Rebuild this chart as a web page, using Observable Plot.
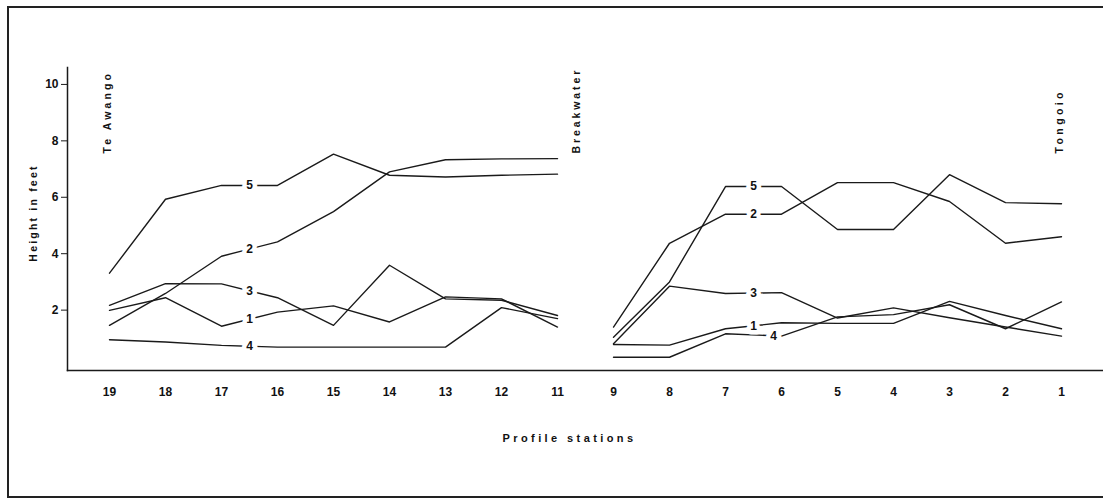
<!DOCTYPE html>
<html>
<head>
<meta charset="utf-8">
<script src="https://cdn.jsdelivr.net/npm/d3@7"></script>
<script src="https://cdn.jsdelivr.net/npm/@observablehq/plot@0.6"></script>
<style>
  html, body { margin: 0; padding: 0; background: #fff; }
  #wrap { position: relative; width: 1103px; height: 499px; overflow: hidden; }
  #border { position: absolute; left: 7px; top: 6px; width: 1120px; height: 488px; border: 2px solid #222; pointer-events: none; }
  #chart { position: absolute; left: 0; top: 0; }
  svg text { font-family: "Liberation Sans", Arial, sans-serif; font-weight: bold; fill: #111; }
</style>
</head>
<body>
<div id="wrap"><div id="chart"></div><div id="border"></div></div>
<script>
// Profile stations (station 10 is absent: breakwater gap)
const stations = ["19","18","17","16","15","14","13","12","11","9","8","7","6","5","4","3","2","1"];
const profiles = ["1","2","3","4","5"];
// Heights in feet per profile, in station order above
const profile1 = [1.99, 2.44, 1.43, 1.93, 2.15, 1.58, 2.47, 2.40, 1.40, 0.78, 0.76, 1.34, 1.55, 1.53, 1.53, 2.31, 1.81, 1.34];
const profile2 = [1.46, 2.59, 3.91, 4.42, 5.49, 6.90, 7.33, 7.36, 7.37, 1.40, 4.37, 5.40, 5.40, 6.52, 6.52, 5.85, 4.37, 4.60];
const profile3 = [2.17, 2.94, 2.93, 2.44, 1.46, 3.59, 2.40, 2.35, 1.81, 0.81, 2.85, 2.59, 2.62, 1.72, 2.08, 1.73, 1.40, 1.08];
const profile4 = [0.95, 0.87, 0.75, 0.69, 0.69, 0.69, 0.69, 2.09, 1.70, 0.33, 0.33, 1.16, 1.08, 1.76, 1.84, 2.19, 1.34, 2.29];
const profile5 = [3.31, 5.93, 6.42, 6.42, 7.53, 6.78, 6.72, 6.78, 6.82, 1.04, 3.00, 6.38, 6.38, 4.86, 4.86, 6.80, 5.81, 5.77];
const yTicks = [2, 4, 6, 8, 10];
const sites = ["Te Awango", "Tongoio"];
const siteStations = ["19", "1"];
const breakwater = ["Breakwater"];
const breakwaterStation = "11";
const labelPairs = [["17","16"], ["7","6"]];
const yTitle = "Height in feet";
const xTitle = "Profile stations";

const series = [profile1, profile2, profile3, profile4, profile5];
const rows = [];
series.forEach((vals, p) => {
  vals.forEach((v, i) => {
    rows.push({station: stations[i], height: v, profile: profiles[p], section: i < 9 ? "north" : "south"});
  });
});
const labels = [];
series.forEach((vals, p) => {
  labelPairs.forEach(([a, b], k) => {
    const ia = stations.indexOf(a), ib = stations.indexOf(b);
    // profile 4's southern label sits nearer station 6
    const t = (p === 3 && k === 1) ? 0.85 : 0.5;
    labels.push({station: a, height: vals[ia] + t * (vals[ib] - vals[ia]), profile: profiles[p], late: t !== 0.5});
  });
});

const ink = "#1a1a1a";
const labelStyle = {x: "station", y: "height", text: "profile", fontSize: 12, fontWeight: "bold", fill: ink, stroke: "white", strokeWidth: 9, paintOrder: "stroke"};
const chart = Plot.plot({
  width: 1103,
  height: 499,
  marginLeft: 67,
  marginRight: 0,
  marginTop: 67,
  marginBottom: 129,
  style: {background: "transparent", fontSize: "11px", fontFamily: "Liberation Sans, Arial, sans-serif"},
  x: {type: "point", domain: stations, padding: 0.67},
  y: {domain: [-0.14, 10.6]},
  marks: [
    Plot.frame({anchor: "left", stroke: ink, strokeWidth: 1.5}),
    Plot.frame({anchor: "bottom", stroke: ink, strokeWidth: 1.5}),
    Plot.axisY({ticks: yTicks, tickSize: 6, tickPadding: 3, label: null, fontSize: 12, stroke: ink}),
    Plot.axisX({tickSize: 0, tickPadding: 17, label: null, fontSize: 12}),
    Plot.lineY(rows, {x: "station", y: "height", z: d => d.profile + d.section, stroke: ink, strokeWidth: 1.4}),
    Plot.text(labels.filter(d => !d.late), {...labelStyle, dx: 28}),
    Plot.text(labels.filter(d => d.late), {...labelStyle, dx: 48}),
    Plot.text(sites, {x: (d, i) => siteStations[i], text: d => d, frameAnchor: "top", dy: 86, dx: -2, rotate: -90, textAnchor: "start", lineAnchor: "middle", fontSize: 10.5}),
    Plot.text(breakwater, {x: () => breakwaterStation, text: d => d, frameAnchor: "top", dy: 86, dx: 19, rotate: -90, textAnchor: "start", lineAnchor: "middle", fontSize: 10.5}),
    Plot.text([yTitle], {text: d => d, frameAnchor: "left", dx: -34, dy: -6, rotate: -90, textAnchor: "middle", lineAnchor: "middle", fontSize: 10.5}),
    Plot.text([xTitle], {text: d => d, frameAnchor: "bottom", dx: -16, dy: 68, textAnchor: "middle", lineAnchor: "middle", fontSize: 11})
  ]
});
// letter spacing of the hand-lettered titles
const spacing = new Map([["Te Awango", 3.1], ["Tongoio", 3.4], ["Breakwater", 2.9], [yTitle, 2.2], [xTitle, 3.4]]);
d3.select(chart).selectAll("text").each(function() {
  const s = spacing.get(this.textContent);
  if (s != null) this.style.letterSpacing = s + "px";
});
document.getElementById("chart").appendChild(chart);
</script>
</body>
</html>
